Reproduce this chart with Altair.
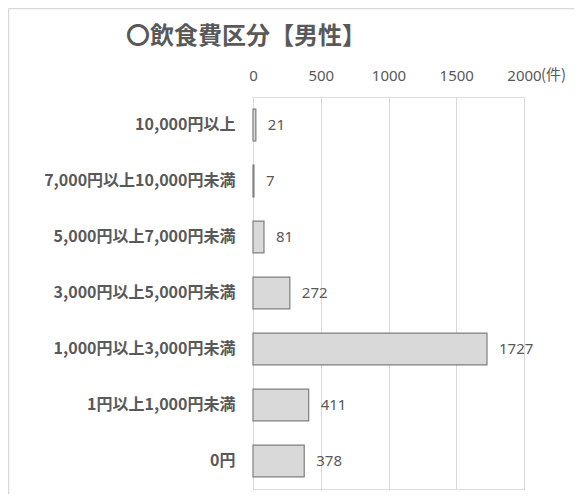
import altair as alt
import pandas as pd

categories = ["10,000円以上", "7,000円以上10,000円未満", "5,000円以上7,000円未満",
              "3,000円以上5,000円未満", "1,000円以上3,000円未満", "1円以上1,000円未満", "0円"]
counts = [21, 7, 81, 272, 1727, 411, 378]
x_ticks = [0, 500, 1000, 1500, 2000]
title_text = "〇飲食費区分【男性】"
unit_text = "(件)"

FONT = "Noto Sans CJK JP"
NUMFONT = "Noto Sans, Noto Sans CJK JP"
TEXT = "#595959"

df = pd.DataFrame({"cat": categories, "n": counts})

x_enc = alt.X("n:Q", scale=alt.Scale(domain=[0, 2000], nice=False),
              axis=alt.Axis(orient="top", values=x_ticks, format="d", title=None, grid=True,
                            gridColor="#d9d9d9", gridWidth=1, ticks=False, tickSize=0,
                            domain=False, labelPadding=14, labelFontSize=15,
                            labelFlush=False, labelOverlap=False,
                            labelColor=TEXT, labelFont=NUMFONT))
y_enc = alt.Y("cat:N", sort=categories,
              scale=alt.Scale(paddingInner=0.43, paddingOuter=0.215),
              axis=alt.Axis(title=None, ticks=False, domain=False, labelPadding=18,
                            labelFontSize=16, labelFontWeight="bold", labelColor=TEXT,
                            labelFont=FONT, labelLimit=0))

bars = alt.Chart(df).mark_bar(fill="#d9d9d9", stroke="#7f7f7f", strokeWidth=1.2).encode(
    x=x_enc, y=y_enc)

labels = alt.Chart(df).mark_text(align="left", baseline="middle", dx=12, fontSize=15,
                                 color=TEXT, font=NUMFONT).encode(
    x="n:Q", y=alt.Y("cat:N", sort=categories), text="n:Q")

unit = alt.Chart(pd.DataFrame({"v": [x_ticks[-1]], "t": [unit_text]})).mark_text(
    align="left", baseline="middle", dx=17, fontSize=15, color=TEXT, font=FONT).encode(
    x="v:Q", y=alt.value(-22), text="t:N")

title = alt.Chart(pd.DataFrame({"t": [title_text]})).mark_text(
    align="center", baseline="middle", fontSize=24, fontWeight="bold", color=TEXT,
    font=FONT).encode(x=alt.value(-7), y=alt.value(-60), text="t:N")

border_left = alt.Chart(pd.DataFrame({"a": [0]})).mark_rule(color="#d9d9d9", strokeWidth=1.5).encode(
    x=alt.value(-244.5), y=alt.value(-88.5), y2=alt.value(420))
border_top = alt.Chart(pd.DataFrame({"a": [0]})).mark_rule(color="#d9d9d9", strokeWidth=1.5).encode(
    x=alt.value(-244.5), x2=alt.value(340), y=alt.value(-88.5))

chart = alt.layer(bars, labels, unit, title, border_left, border_top).properties(
    width=271, height=392,
    autosize=alt.AutoSizeParams(type="none"),
    padding={"left": 245, "top": 89, "right": 50, "bottom": 5},
).configure_view(stroke=None).configure(background="white")

chart.save("out.html", embed_options={"renderer": "svg", "actions": False})
